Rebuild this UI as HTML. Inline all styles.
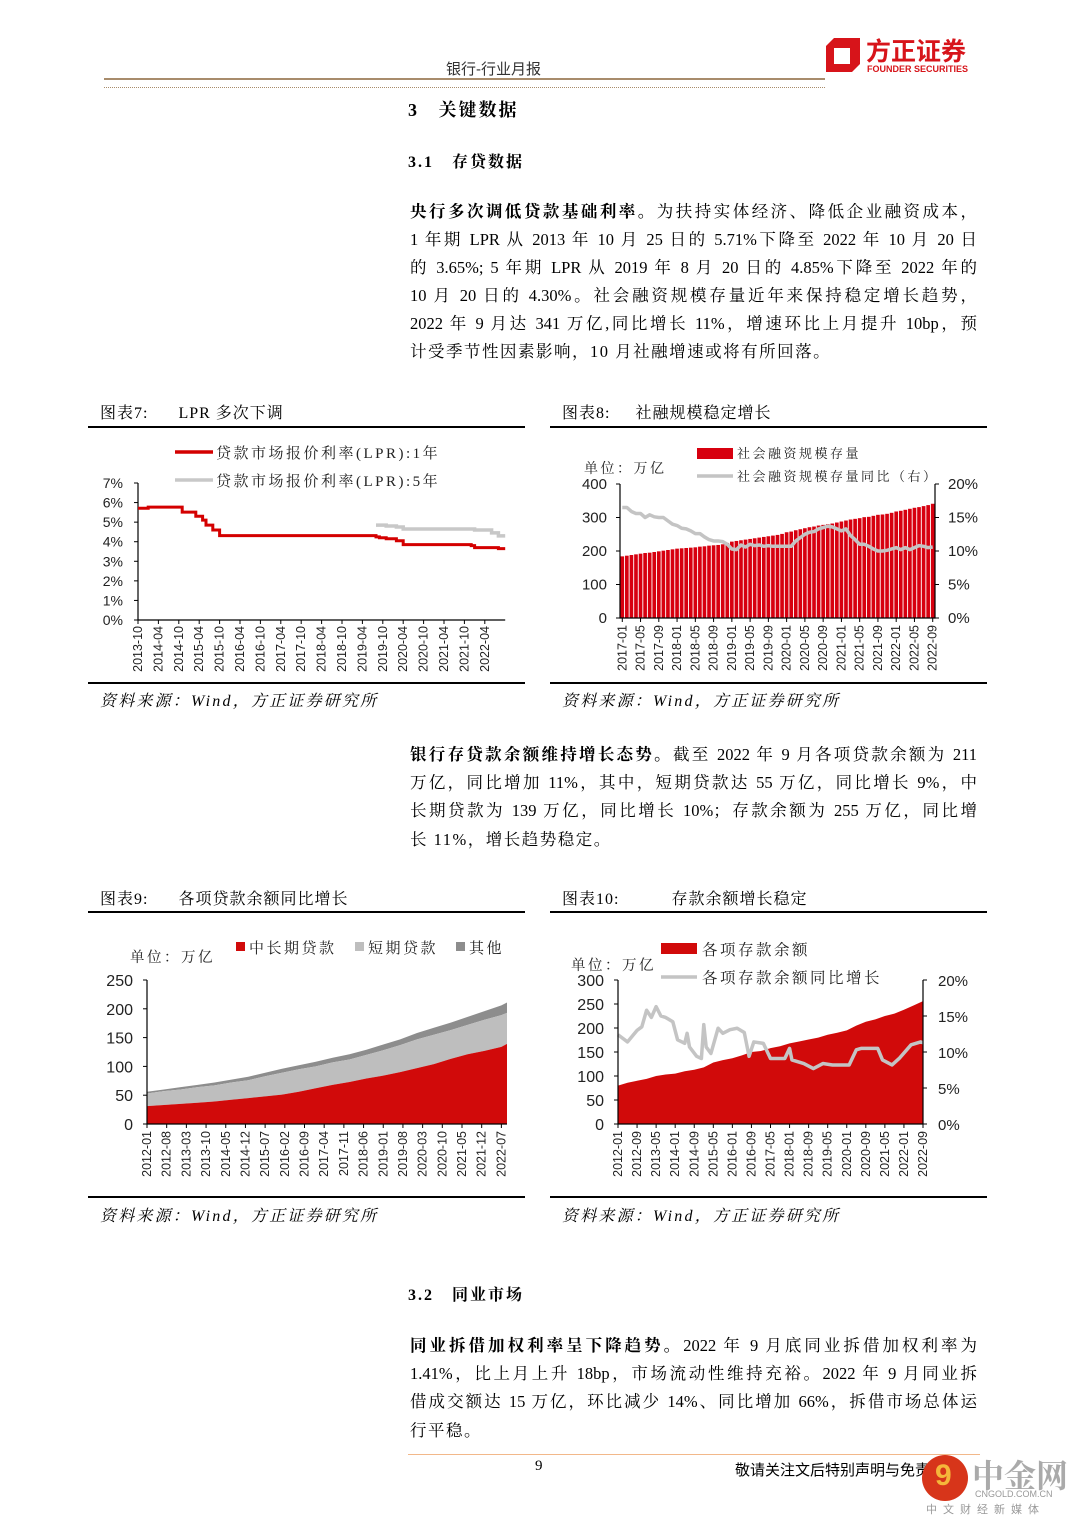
<!DOCTYPE html>
<html><head><meta charset="utf-8">
<style>
body{margin:0;background:#fff;}
#page{position:relative;width:1080px;height:1527px;overflow:hidden;background:#fff;font-family:"Liberation Serif","Noto Serif CJK SC",serif;color:#000;}
.a{position:absolute;white-space:nowrap;}
.ln{position:absolute;left:410px;width:567px;font-size:16.5px;line-height:28px;text-align:justify;text-align-last:justify;white-space:nowrap;}
.ln.last{text-align-last:left;letter-spacing:1.5px;}
.ct{position:absolute;font-size:16px;letter-spacing:1px;}
.src{position:absolute;font-size:16px;font-style:italic;letter-spacing:2.2px;}
.rule{position:absolute;height:2px;background:#000;}
b{font-weight:bold;}
svg text{font-family:"Liberation Sans","Noto Sans CJK SC",sans-serif;}
svg text.cn{font-family:"Liberation Serif","Noto Serif CJK SC",serif;letter-spacing:2.5px;}
</style></head><body>
<div id="page">
<div class="a" style="left:446px;top:58px;font-size:15px;font-family:'Liberation Sans','Noto Sans CJK SC',sans-serif;color:#333;">银行-行业月报</div>
<div class="a" style="left:104px;top:78px;width:721px;height:2px;background:#a88c6c;"></div>
<div class="a" style="left:104px;top:87px;width:721px;border-top:1px dotted #a88c6c;"></div>
<div class="a" style="left:820px;top:34px;width:160px;height:42px;">
 <svg width="40" height="40" viewBox="0 0 40 40" style="position:absolute;left:2px;top:2px"><path d="M12 2 H38 V28 L30 36 H4 V10 Z M12 12 V28 H28 V12 Z" fill="#d7141a"/></svg>
 <div class="a" style="left:46px;top:-2px;font-size:25px;font-weight:bold;color:#d7141a;font-family:'Noto Sans CJK SC',sans-serif;">方正证券</div>
 <div class="a" style="left:47px;top:30px;font-size:9px;font-weight:bold;color:#d7141a;font-family:'Liberation Sans',sans-serif;">FOUNDER SECURITIES</div>
</div>
<div class="a" style="left:408px;top:96px;font-size:18px;font-weight:bold;letter-spacing:2px;">3&nbsp;&nbsp;&nbsp;关键数据</div>
<div class="a" style="left:408px;top:149px;font-size:16px;font-weight:bold;letter-spacing:2px;">3.1&nbsp;&nbsp;&nbsp;存贷数据</div>

<div>
<div class="ln" style="top:198px;"><b>央行多次调低贷款基础利率。</b>为扶持实体经济、降低企业融资成本，</div>
<div class="ln" style="top:226px;">1 年期 LPR 从 2013 年 10 月 25 日的 5.71%下降至 2022 年 10 月 20 日</div>
<div class="ln" style="top:254px;">的 3.65%; 5 年期 LPR 从 2019 年 8 月 20 日的 4.85%下降至 2022 年的</div>
<div class="ln" style="top:282px;">10 月 20 日的 4.30%。社会融资规模存量近年来保持稳定增长趋势，</div>
<div class="ln" style="top:310px;">2022 年 9 月达 341 万亿,同比增长 11%，增速环比上月提升 10bp，预</div>
<div class="ln last" style="top:338px;">计受季节性因素影响，10 月社融增速或将有所回落。</div>
</div>

<div class="ct" style="left:100px;top:400px;">图表7:&nbsp;&nbsp;&nbsp;&nbsp;&nbsp;&nbsp;LPR 多次下调</div>
<div class="rule" style="left:88px;top:426px;width:437px;"></div>
<div class="rule" style="left:88px;top:682px;width:437px;"></div>
<div class="src" style="left:100px;top:688px;">资料来源：Wind，方正证券研究所</div>
<div class="ct" style="left:562px;top:400px;">图表8:&nbsp;&nbsp;&nbsp;&nbsp;&nbsp;社融规模稳定增长</div>
<div class="rule" style="left:550px;top:426px;width:437px;"></div>
<div class="rule" style="left:550px;top:682px;width:437px;"></div>
<div class="src" style="left:562px;top:688px;">资料来源：Wind，方正证券研究所</div>

<div>
<div class="ln" style="top:741px;"><b>银行存贷款余额维持增长态势。</b>截至 2022 年 9 月各项贷款余额为 211</div>
<div class="ln" style="top:769px;">万亿，同比增加 11%，其中，短期贷款达 55 万亿，同比增长 9%，中</div>
<div class="ln" style="top:797px;">长期贷款为 139 万亿，同比增长 10%；存款余额为 255 万亿，同比增</div>
<div class="ln last" style="top:826px;">长 11%，增长趋势稳定。</div>
</div>

<div class="ct" style="left:100px;top:886px;">图表9:&nbsp;&nbsp;&nbsp;&nbsp;&nbsp;&nbsp;各项贷款余额同比增长</div>
<div class="rule" style="left:88px;top:911px;width:437px;"></div>
<div class="rule" style="left:88px;top:1196px;width:437px;"></div>
<div class="src" style="left:100px;top:1203px;">资料来源：Wind，方正证券研究所</div>
<div class="ct" style="left:562px;top:886px;">图表10:<span style="display:inline-block;width:52px"></span>存款余额增长稳定</div>
<div class="rule" style="left:550px;top:911px;width:437px;"></div>
<div class="rule" style="left:550px;top:1196px;width:437px;"></div>
<div class="src" style="left:562px;top:1203px;">资料来源：Wind，方正证券研究所</div>

<div class="a" style="left:408px;top:1282px;font-size:16px;font-weight:bold;letter-spacing:2px;">3.2&nbsp;&nbsp;&nbsp;同业市场</div>
<div>
<div class="ln" style="top:1332px;"><b>同业拆借加权利率呈下降趋势。</b>2022 年 9 月底同业拆借加权利率为</div>
<div class="ln" style="top:1360px;">1.41%，比上月上升 18bp，市场流动性维持充裕。2022 年 9 月同业拆</div>
<div class="ln" style="top:1388px;">借成交额达 15 万亿，环比减少 14%、同比增加 66%，拆借市场总体运</div>
<div class="ln last" style="top:1417px;">行平稳。</div>
</div>
<div class="a" style="left:408px;top:1454px;width:572px;height:1px;background:#f2b88a;"></div>
<div class="a" style="left:535px;top:1458px;font-size:15px;">9</div>
<div class="a" style="left:735px;top:1459px;font-size:15px;font-family:'Liberation Sans','Noto Sans CJK SC',sans-serif;">敬请关注文后特别声明与免责条款</div>
<div class="a" style="left:922px;top:1453px;width:150px;height:70px;">
 <div class="a" style="left:0;top:2px;width:46px;height:46px;border-radius:50%;background:#d7351a;"></div>
 <div class="a" style="left:13px;top:6px;font-size:30px;color:#f5b63a;font-weight:bold;font-family:'Liberation Sans',sans-serif;">9</div>
 <div class="a" style="left:50px;top:-2px;font-size:32px;color:#aaa;font-weight:bold;font-family:'Noto Serif CJK SC',serif;">中金网</div>
 <div class="a" style="left:53px;top:36px;font-size:9px;color:#999;font-family:'Liberation Sans',sans-serif;">CNGOLD.COM.CN</div>
 <div class="a" style="left:4px;top:48px;font-size:11px;color:#999;letter-spacing:6px;font-family:'Noto Sans CJK SC',sans-serif;">中文财经新媒体</div>
</div>

<svg id="charts" width="1080" height="1527" style="position:absolute;left:0;top:0;"></svg>
</div>
<script>
// ---- Chart 7: LPR ----
const lprTicks = ['2013-10','2014-04','2014-10','2015-04','2015-10','2016-04','2016-10','2017-04','2017-10','2018-04','2018-10','2019-04','2019-10','2020-04','2020-10','2021-04','2021-10','2022-04'];
const lpr1yMonth = [0,3,13,17,19,20,22,24,70,71,73,76,78,98,99,106];
const lpr1yValue = [5.71,5.77,5.51,5.30,5.10,4.85,4.60,4.31,4.25,4.20,4.15,4.05,3.85,3.80,3.70,3.65];
const lpr5yMonth = [70,73,76,78,99,104,106];
const lpr5yValue = [4.85,4.80,4.75,4.65,4.60,4.45,4.30];
const lprEnd = 108;
const pctTicks7 = [0,1,2,3,4,5,6,7];
// ---- Chart 8: social financing ----
const tsfTicks = ['2017-01','2017-05','2017-09','2018-01','2018-05','2018-09','2019-01','2019-05','2019-09','2020-01','2020-05','2020-09','2021-01','2021-05','2021-09','2022-01','2022-05','2022-09'];
const tsfStock = [184,186,188,190,192,194,195,197,199,201,203,205,207,208,209,210,211,213,214,216,217,218,220,224,228,230,232,234,236,238,240,242,244,246,248,251,256,258,262,265,268,271,273,276,278,280,282,285,288,291,294,296,298,301,302,305,308,309,311,314,318,320,323,326,329,331,334,337,341];
const tsfYoy = [16.5,16.5,15.9,15.6,15.6,15.0,15.4,15.1,15.0,15.0,14.5,14.0,13.8,13.4,13.3,13.0,12.6,12.6,12.1,11.7,11.5,11.5,11.4,11.0,10.3,10.2,10.9,10.6,11.0,10.8,10.9,10.7,10.8,10.7,10.7,10.7,10.7,10.7,11.5,12.0,12.5,12.8,12.9,13.3,13.5,13.7,13.6,13.3,13.0,13.3,12.3,11.7,11.0,11.0,10.7,10.3,10.0,10.0,10.1,10.3,10.5,10.2,10.5,10.2,10.5,10.8,10.7,10.5,10.6];
const leftTicks8 = [0,100,200,300,400];
const rightTicks8 = [0,5,10,15,20];
// ---- Chart 9: loans ----
const loanTicks = ['2012-01','2012-08','2013-03','2013-10','2014-05','2014-12','2015-07','2016-02','2016-09','2017-04','2017-11','2018-06','2019-01','2019-08','2020-03','2020-10','2021-05','2021-12','2022-07'];
const loanMonth = [0,6,12,18,24,30,36,42,48,54,60,66,72,78,84,90,96,102,108,114,120,126,128];
const loanLong = [31,33,35,37,39,42,45,48,51,56,62,68,73,79,84,90,97,104,113,121,127,134,139];
const loanShort = [22,24,25,27,28,30,31,35,38,39,38,39,39,41,44,47,50,51,50,51,54,55,54];
const loanOther = [3,3,4,4,5,5,6,6,7,7,8,8,9,9,10,10,11,12,13,14,15,17,18];
const leftTicks9 = [0,50,100,150,200,250];
// ---- Chart 10: deposits ----
const depTicks = ['2012-01','2012-09','2013-05','2014-01','2014-09','2015-05','2016-01','2016-09','2017-05','2018-01','2018-09','2019-05','2020-01','2020-09','2021-05','2022-01','2022-09'];
const depMonth = [0,4,8,12,16,20,24,28,32,36,40,44,48,52,56,60,64,68,72,76,80,84,88,92,96,100,104,108,112,116,120,124,128];
const depValue = [80,86,90,94,100,103,105,110,113,118,128,133,137,143,150,152,158,162,168,172,176,180,186,190,195,205,213,218,225,230,238,247,256];
const depYoyMonth = [0,4,8,10,12,14,16,18,20,23,25,28,29,30,33,35,36,37,39,42,44,47,50,53,55,57,61,64,70,72,73,78,82,86,90,97,100,102,109,111,115,118,123,127,128];
const depYoyValue = [12.4,11.4,13.0,13.5,15.8,14.8,16.3,15.0,14.8,14.2,11.7,11.2,12.6,10.7,9.4,9.1,13.8,10.7,9.8,13.3,12.6,13.1,13.3,12.7,9.4,11.4,11.2,9.1,9.1,10.5,8.9,8.4,7.7,8.4,8.2,8.2,10.3,10.5,10.5,8.9,8.2,9.1,11.0,11.4,11.3];
const leftTicks10 = [0,50,100,150,200,250,300];
const rightTicks10 = [0,5,10,15,20];

const svg = document.getElementById('charts');
const NS = 'http://www.w3.org/2000/svg';
function mk(tag, attrs, parent){ const e=document.createElementNS(NS,tag); for(const k in attrs) e.setAttribute(k,attrs[k]); (parent||svg).appendChild(e); return e; }
function txt(s, x, y, size, anchor, cls){ const t=mk('text',{x:x,y:y,'font-size':size,'text-anchor':anchor||'start',fill:'#222'}); if(cls) t.setAttribute('class',cls); t.textContent=s; return t; }
function vlabel(s, x, y){ const t=mk('text',{x:x,y:y,'font-size':12.5,'text-anchor':'end',fill:'#222',transform:'rotate(-90 '+x+' '+y+')'}); t.textContent=s; return t; }
function stepPath(ms, vs, end, fx, fy){ let d='M'+fx(ms[0])+' '+fy(vs[0]); for(let i=1;i<ms.length;i++){ d+=' H'+fx(ms[i])+' V'+fy(vs[i]); } d+=' H'+fx(end); return d; }

// ===== Chart 7 =====
(function(){
 const X0=138, Y0=620, YT=483;
 const x7 = m => X0 + m*3.4;
 const y7 = v => Y0 - v/7*(Y0-YT);
 const g = mk('g',{});
 
 
 const ax = mk('path',{d:'M'+X0+' '+YT+' V'+Y0+' H'+x7(lprEnd),stroke:'#000','stroke-width':1.2,fill:'none'},g);
 
 
 pctTicks7.forEach(v=>{ mk('line',{x1:X0-4,x2:X0,y1:y7(v),y2:y7(v),stroke:'#000'},g); const t=txt(v+'%',X0-15,y7(v)+5,14,'end');   });
 lprTicks.forEach((s,i)=>{ const x=x7(i*6); mk('line',{x1:x,x2:x,y1:Y0,y2:Y0+4,stroke:'#000'},g); const t=vlabel(s,x+4,Y0+6);   });
 const l5 = mk('path',{d:stepPath(lpr5yMonth,lpr5yValue,lprEnd,x7,y7),stroke:'#c8c8c8','stroke-width':3.5,fill:'none'},g);
 
 
 const l1 = mk('path',{d:stepPath(lpr1yMonth,lpr1yValue,lprEnd,x7,y7),stroke:'#d40000','stroke-width':3,fill:'none'},g);
 
 
 mk('line',{x1:175,x2:213,y1:452,y2:452,stroke:'#d40000','stroke-width':3.5},g);
 const t1=txt('贷款市场报价利率(LPR):1年',216,458,15,'start','cn');
 
 
 mk('line',{x1:175,x2:213,y1:480,y2:480,stroke:'#c8c8c8','stroke-width':3.5},g);
 const t2=txt('贷款市场报价利率(LPR):5年',216,486,15,'start','cn');
 
 
})();

// ===== Chart 8 =====
(function(){
 const XL=620, XR=935, Y0=618, YT=484, slot=(XR-XL)/tsfStock.length;
 const xc = i => XL + slot*(i+0.5);
 const yL = v => Y0 - v/400*(Y0-YT);
 const yR = p => Y0 - p/20*(Y0-YT);
 const g = mk('g',{});
 
 
 tsfStock.forEach((v,i)=>{ const b=mk('rect',{x:xc(i)-slot*0.4,y:yL(v),width:slot*0.8,height:Y0-yL(v),fill:'#d7000f'},g);   });
 const ln = mk('polyline',{points:tsfYoy.map((p,i)=>xc(i)+','+yR(p)).join(' '),stroke:'#c4c4c4','stroke-width':3.5,fill:'none','stroke-linejoin':'round'},g);
 
 
 mk('path',{d:'M'+XL+' '+YT+' V'+Y0+' H'+XR+' V'+YT,stroke:'#000','stroke-width':1.2,fill:'none'},g);
 leftTicks8.forEach(v=>{ mk('line',{x1:XL-4,x2:XL,y1:yL(v),y2:yL(v),stroke:'#000'},g); const t=txt(String(v),XL-13,yL(v)+5,15,'end');   });
 rightTicks8.forEach(v=>{ mk('line',{x1:XR,x2:XR+4,y1:yR(v),y2:yR(v),stroke:'#000'},g); const t=txt(v+'%',XR+13,yR(v)+5,15,'start');   });
 tsfTicks.forEach((s,i)=>{ const x=xc(i*4); mk('line',{x1:x,x2:x,y1:Y0,y2:Y0+4,stroke:'#000'},g); const t=vlabel(s,x+4,Y0+7);   });
 mk('rect',{x:697,y:448,width:36,height:11,fill:'#d7000f'},g);
 const a=txt('社会融资规模存量',737,458,13,'start','cn');
 
 
 mk('line',{x1:697,x2:733,y1:476,y2:476,stroke:'#c4c4c4','stroke-width':3.5},g);
 const b=txt('社会融资规模存量同比（右）',737,481,13,'start','cn');
 
 
 const u=txt('单位：万亿',584,473,14,'start','cn');
 
 
})();

// ===== Chart 9 =====
(function(){
 const X0=147, XE=507, Y0=1124, YT=980;
 const x9 = m => X0 + m*(XE-X0)/128;
 const y9 = v => Y0 - v/250*(Y0-YT);
 const g = mk('g',{});
 
 
 function area(lo, hi, color, name){
  let d='M'+x9(loanMonth[0])+' '+y9(hi[0]);
  for(let i=1;i<loanMonth.length;i++) d+=' L'+x9(loanMonth[i])+' '+y9(hi[i]);
  for(let i=loanMonth.length-1;i>=0;i--) d+=' L'+x9(loanMonth[i])+' '+y9(lo[i]);
  const p=mk('path',{d:d+' Z',fill:color},g);
  
  
 }
 const zero=loanLong.map(()=>0);
 const ls=loanLong.map((v,i)=>v+loanShort[i]);
 const tot=ls.map((v,i)=>v+loanOther[i]);
 area(ls,tot,'#8d8d8d','other-loans-area');
 area(loanLong,ls,'#bebebe','short-term-loans-area');
 area(zero,loanLong,'#d10a0a','long-term-loans-area');
 mk('path',{d:'M'+X0+' '+YT+' V'+Y0+' H'+XE,stroke:'#000','stroke-width':1.2,fill:'none'},g);
 leftTicks9.forEach(v=>{ mk('line',{x1:X0-4,x2:X0,y1:y9(v),y2:y9(v),stroke:'#000'},g); const t=txt(String(v),X0-14,y9(v)+6,16,'end');   });
 loanTicks.forEach((s,i)=>{ const x=x9(i*7); mk('line',{x1:x,x2:x,y1:Y0,y2:Y0+4,stroke:'#000'},g); const t=vlabel(s,x+4,Y0+7);   });
 const u=txt('单位：万亿',130,962,14.5,'start','cn');
 
 
 mk('rect',{x:236,y:942,width:9,height:9,fill:'#d10a0a'},g);
 const a=txt('中长期贷款',249,953,15,'start','cn');
 
 
 mk('rect',{x:355,y:942,width:9,height:9,fill:'#bebebe'},g);
 const b=txt('短期贷款',368,953,15,'start','cn');
 
 
 mk('rect',{x:456,y:942,width:9,height:9,fill:'#8d8d8d'},g);
 const c=txt('其他',469,953,15,'start','cn');
 
 
})();

// ===== Chart 10 =====
(function(){
 const XL=618, XR=923, Y0=1124, YT=980;
 const x10 = m => XL + m*(XR-XL)/128;
 const yL = v => Y0 - v/300*(Y0-YT);
 const yR = p => Y0 - p/20*(Y0-YT);
 const g = mk('g',{});
 
 
 let d='M'+x10(depMonth[0])+' '+Y0;
 depMonth.forEach((m,i)=>{ d+=' L'+x10(m)+' '+yL(depValue[i]); });
 d+=' L'+x10(depMonth[depMonth.length-1])+' '+Y0+' Z';
 const ar=mk('path',{d:d,fill:'#d10a0a'},g);
 
 
 const ln=mk('polyline',{points:depYoyMonth.map((m,i)=>x10(m)+','+yR(depYoyValue[i])).join(' '),stroke:'#c4c4c4','stroke-width':3.5,fill:'none','stroke-linejoin':'round'},g);
 
 
 mk('path',{d:'M'+XL+' '+YT+' V'+Y0+' H'+XR+' V'+YT,stroke:'#000','stroke-width':1.2,fill:'none'},g);
 leftTicks10.forEach(v=>{ mk('line',{x1:XL-4,x2:XL,y1:yL(v),y2:yL(v),stroke:'#000'},g); const t=txt(String(v),XL-14,yL(v)+6,16,'end');   });
 rightTicks10.forEach(v=>{ mk('line',{x1:XR,x2:XR+4,y1:yR(v),y2:yR(v),stroke:'#000'},g); const t=txt(v+'%',XR+15,yR(v)+6,15,'start');   });
 depTicks.forEach((s,i)=>{ const x=x10(i*8); mk('line',{x1:x,x2:x,y1:Y0,y2:Y0+4,stroke:'#000'},g); const t=vlabel(s,x+4,Y0+7);   });
 mk('rect',{x:661,y:943,width:36,height:11,fill:'#d10a0a'},g);
 const a=txt('各项存款余额',702,955,15.5,'start','cn');
 
 
 mk('line',{x1:661,x2:697,y1:977,y2:977,stroke:'#c4c4c4','stroke-width':3.5},g);
 const b=txt('各项存款余额同比增长',702,983,15.5,'start','cn');
 
 
 const u=txt('单位：万亿',571,970,14.5,'start','cn');
 
 
})();
</script>
</body></html>
